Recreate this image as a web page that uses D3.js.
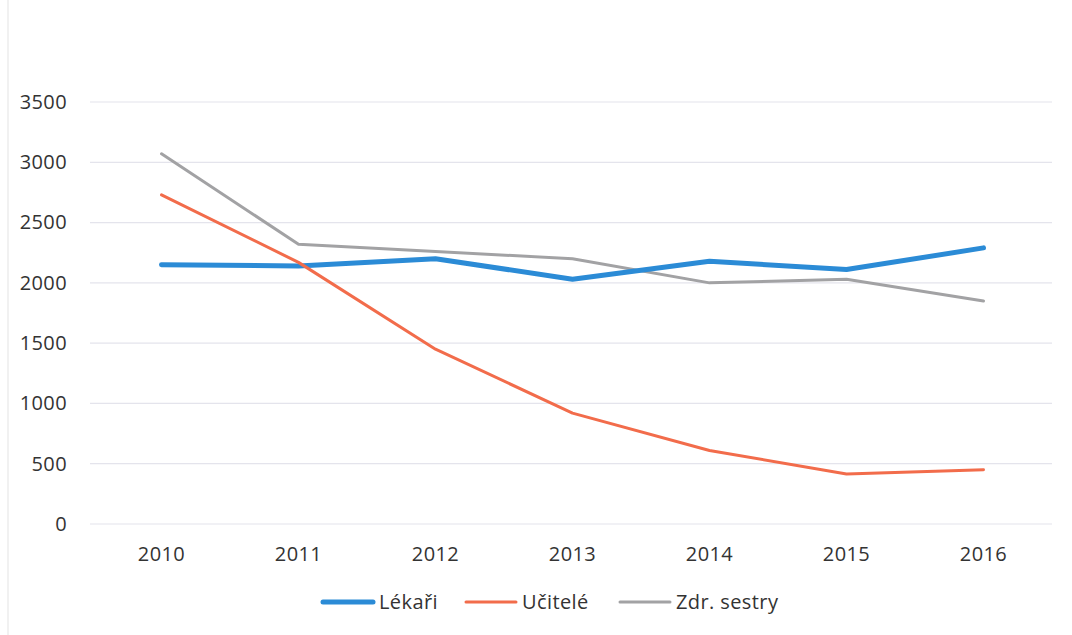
<!DOCTYPE html>
<html>
<head>
<meta charset="utf-8">
<script src="https://cdn.jsdelivr.net/npm/d3@7/dist/d3.min.js"></script>
<style>
  html, body { margin: 0; padding: 0; background: #fff; }
  svg { display: block; }
  text { font-family: "Open Sans", "Noto Sans", sans-serif; fill: #333; }
</style>
</head>
<body>
<svg id="chart" width="1072" height="635"></svg>
<script>
// Years on the x axis
const years = ["2010", "2011", "2012", "2013", "2014", "2015", "2016"];

// Series values per year
const lekari  = [2150, 2140, 2200, 2030, 2180, 2110, 2290];
const ucitele = [2730, 2170, 1450, 920, 610, 415, 450];
const sestry  = [3070, 2320, 2260, 2200, 2000, 2030, 1850];

const seriesNames = ["Lékaři", "Učitelé", "Zdr. sestry"];
const yTicks = [0, 500, 1000, 1500, 2000, 2500, 3000, 3500];

const series = [
  { name: seriesNames[0], values: lekari,  color: "#2b8bd6", width: 5 },
  { name: seriesNames[1], values: ucitele, color: "#f26c4b", width: 3 },
  { name: seriesNames[2], values: sestry,  color: "#a2a2a4", width: 3 }
];

const FONT_SIZE = "20px";
const svg = d3.select("#chart");
const margin = { left: 93, right: 20, top: 102, bottom: 111 };
const W = 1072, H = 635;

// faint frame edge on the left
svg.append("line")
  .attr("x1", 8).attr("x2", 8).attr("y1", 0).attr("y2", H)
  .attr("stroke", "#ececec").attr("stroke-width", 1.5);

const x = d3.scaleBand()
  .domain(years)
  .range([margin.left, W - margin.right]);

const y = d3.scaleLinear()
  .domain([0, 3500])
  .range([H - margin.bottom, margin.top]);

// gridlines
svg.append("g")
  .selectAll("line")
  .data(yTicks)
  .join("line")
  .attr("x1", margin.left - 3)
  .attr("x2", W - margin.right)
  .attr("y1", d => y(d))
  .attr("y2", d => y(d))
  .attr("stroke", "#e4e4ec")
  .attr("stroke-width", 1.2);

// y axis labels
const yAxis = svg.append("g")
  .attr("transform", `translate(${margin.left - 26},0)`)
  .call(d3.axisLeft(y).tickValues(yTicks).tickFormat(d3.format("d")).tickSize(0).tickPadding(0));
yAxis.select(".domain").remove();
yAxis.selectAll("text")
  .style("font-size", FONT_SIZE)
  .style("font-family", "'Open Sans', sans-serif")
  .style("letter-spacing", "0.4px")
  .attr("fill", "#333");

// x axis labels
const xAxis = svg.append("g")
  .attr("transform", `translate(0,${y(0) + 23})`)
  .call(d3.axisBottom(x).tickSize(0).tickPadding(0));
xAxis.select(".domain").remove();
xAxis.selectAll("text")
  .style("font-size", FONT_SIZE)
  .style("font-family", "'Open Sans', sans-serif")
  .style("letter-spacing", "0.4px")
  .attr("fill", "#333");

const line = d3.line()
  .x((d, i) => x(years[i]) + x.bandwidth() / 2)
  .y(d => y(d));

// draw in order: sestry under, then lékaři, then učitelé on top
const drawOrder = [series[2], series[0], series[1]];
svg.append("g")
  .selectAll("path")
  .data(drawOrder)
  .join("path")
  .attr("d", d => line(d.values))
  .attr("fill", "none")
  .attr("stroke", d => d.color)
  .attr("stroke-width", d => d.width)
  .attr("stroke-linecap", "round")
  .attr("stroke-linejoin", "round");

// legend
const legendY = 602;
const legendItems = [
  { s: series[0], x0: 323 },
  { s: series[1], x0: 466 },
  { s: series[2], x0: 620 }
];
const lg = svg.append("g");
legendItems.forEach(item => {
  lg.append("line")
    .attr("x1", item.x0).attr("x2", item.x0 + 50)
    .attr("y1", legendY).attr("y2", legendY)
    .attr("stroke", item.s.color)
    .attr("stroke-width", item.s.width)
    .attr("stroke-linecap", "round");
  lg.append("text")
    .attr("x", item.x0 + 56)
    .attr("y", legendY)
    .attr("dy", "0.35em")
    .style("font-size", FONT_SIZE)
    .style("letter-spacing", "0.4px")
    .text(item.s.name);
});
</script>
</body>
</html>
